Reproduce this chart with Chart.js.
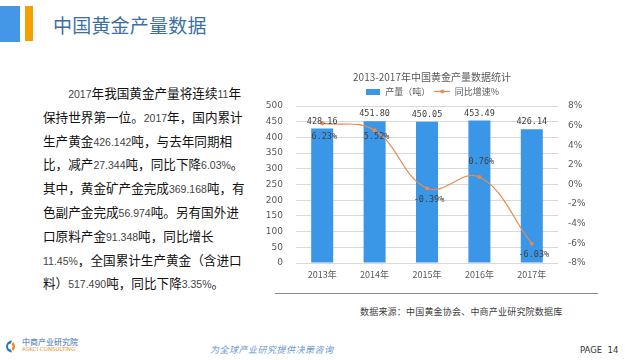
<!DOCTYPE html>
<html><head><meta charset="utf-8">
<script src="https://cdn.jsdelivr.net/npm/chart.js@4/dist/chart.umd.min.js"></script>
<style>
html,body{margin:0;padding:0;background:#fff;}
body{width:625px;height:360px;position:relative;overflow:hidden;font-family:"Noto Sans CJK SC","Noto Sans",sans-serif;}
.abs{position:absolute;}
#blk1{left:0;width:20px;height:36px;background:#4497E6;top:6px;}
#blk2{left:25px;top:6px;width:8px;height:35px;background:#F5A000;}
#ttl{left:53px;top:12px;font-size:19px;line-height:26px;color:#3D6FA3;letter-spacing:0.2px;white-space:nowrap;}
#para{left:43px;top:82px;font-size:12.6px;line-height:22.8px;color:#111;}
#para div{white-space:nowrap;}
#para .n{font-family:"Liberation Sans","Arial",sans-serif;font-size:10.5px;color:#444;}
#wrap{left:262px;top:61px;width:340px;height:226px;}
#sep{left:275px;top:293px;width:323px;height:1px;background:#8a8a8a;}
#src{left:360px;top:305px;font-size:9px;line-height:14px;color:#404040;white-space:nowrap;letter-spacing:0.2px;}
#tag{left:210px;top:343px;font-size:9px;line-height:13px;color:#6C9BD0;font-style:italic;white-space:nowrap;letter-spacing:0.5px;}
#pg{left:580px;top:344px;font-size:8.5px;line-height:12px;color:#333;font-family:"DejaVu Sans",sans-serif;white-space:nowrap;}
#logo{left:3px;top:339px;}
#lg1{left:22px;top:336px;font-size:8px;line-height:11px;color:#3A6DB0;white-space:nowrap;}
#lg2{left:22px;top:346px;font-size:5.5px;line-height:7px;color:#E8922E;white-space:nowrap;font-family:"DejaVu Sans",sans-serif;}
</style></head>
<body>
<div id="blk1" class="abs"></div>
<div id="blk2" class="abs"></div>
<div id="ttl" class="abs">中国黄金产量数据</div>
<div id="para" class="abs">
<div>&#12288;&#12288;<span class="n">2017</span>年我国黄金产量将连续<span class="n">11</span>年</div>
<div>保持世界第一位。<span class="n">2017</span>年，国内累计</div>
<div>生产黄金<span class="n">426.142</span>吨，与去年同期相</div>
<div>比，减产<span class="n">27.344</span>吨，同比下降<span class="n">6.03%</span>。</div>
<div>其中，黄金矿产金完成<span class="n">369.168</span>吨，有</div>
<div>色副产金完成<span class="n">56.974</span>吨。另有国外进</div>
<div>口原料产金<span class="n">91.348</span>吨，同比增长</div>
<div><span class="n">11.45%</span>，全国累计生产黄金（含进口</div>
<div>料）<span class="n">517.490</span>吨，同比下降<span class="n">3.35%</span>。</div>
</div>
<div id="wrap" class="abs"><canvas id="c" width="340" height="226"></canvas></div>
<div id="sep" class="abs"></div>
<div id="src" class="abs">数据来源：中国黄金协会、中商产业研究院数据库</div>
<svg id="logo" class="abs" width="14" height="15" viewBox="0 0 14 15">
<path d="M9 1.5 A6 6 0 1 0 9 13.5 L8 10.5 A3 3 0 1 1 8 4.5 Z" fill="#2F74C0"/>
<path d="M10 3 A6 6 0 0 1 10 12 L8.6 9.6 A3 3 0 0 0 8.6 5.4 Z" fill="#EE8B2A"/>
</svg>
<div id="lg1" class="abs">中商产业研究院</div>
<div id="lg2" class="abs">ASKCI CONSULTING</div>
<div id="tag" class="abs">为全球产业研究提供决策咨询</div>
<div id="pg" class="abs">PAGE&nbsp; 14</div>
<script>
const categories = ['2013年','2014年','2015年','2016年','2017年'];
const output = [428.16, 451.80, 450.05, 453.49, 426.14];
const growth = [6.23, 5.52, -0.39, 0.76, -6.03];
const seriesNames = ['产量（吨）','同比增速%'];
const chartTitle = '2013-2017年中国黄金产量数据统计';

const BAR = '#3A96E6', LINE = '#E8894F';
function icon(w,h,draw){const c=document.createElement('canvas');c.width=w;c.height=h;draw(c.getContext('2d'));return c;}
const barIcon = icon(14,6,g=>{g.fillStyle=BAR;g.fillRect(0,0,14,6);});
const lineIcon = icon(16,7,g=>{g.strokeStyle=LINE;g.lineWidth=1.2;g.beginPath();g.moveTo(0,3.5);g.lineTo(16,3.5);g.stroke();g.fillStyle=LINE;g.beginPath();g.arc(8,3.5,2,0,Math.PI*2);g.fill();});

const labelPlugin = {
  id:'lbls',
  afterDatasetsDraw(chart){
    const ctx = chart.ctx;
    ctx.save();
    ctx.fillStyle = '#404040';
    ctx.font = '8.5px "DejaVu Sans Mono", monospace';
    ctx.textAlign = 'center';
    const mb = chart.getDatasetMeta(0);
    mb.data.forEach((el,i)=>{
      ctx.textBaseline='bottom';
      ctx.fillText(output[i].toFixed(2), el.x, el.y-3);
    });
    const ml = chart.getDatasetMeta(1);
    const off = [13, 6, 11, -15, 11];
    ml.data.forEach((el,i)=>{
      ctx.textBaseline='middle';
      ctx.fillText(growth[i].toFixed(2)+'%', el.x+2, el.y+off[i]);
    });
    ctx.restore();
  }
};

new Chart(document.getElementById('c'), {
  data:{
    labels: categories,
    datasets:[
      {type:'bar', label:seriesNames[0], data:output, backgroundColor:BAR, yAxisID:'y', order:2,
       barPercentage:1, categoryPercentage:0.42},
      {type:'line', label:seriesNames[1], data:growth, borderColor:LINE, backgroundColor:LINE, borderWidth:1.2,
       yAxisID:'y1', order:1, tension:0.4, pointRadius:2, pointBackgroundColor:LINE, pointBorderWidth:0, pointStyle:'circle'}
    ]
  },
  options:{
    responsive:false, animation:false,
    layout:{padding:0},
    plugins:{
      tooltip:{enabled:false},
      title:{display:true, text:chartTitle, color:'#595959', font:{size:10, family:'"Noto Sans CJK SC", sans-serif', weight:'normal'}, padding:{top:10,bottom:0}},
      legend:{display:true, position:'top', labels:{usePointStyle:true, pointStyleWidth:16, boxHeight:7, padding:4, color:'#595959',
        font:{size:9, family:'"Noto Sans CJK SC", sans-serif'},
        sort:(a,b)=>a.datasetIndex-b.datasetIndex,
        generateLabels:(chart)=>chart.data.datasets.map((d,i)=>({text:d.label, datasetIndex:i, pointStyle:i===0?barIcon:lineIcon, fontColor:'#595959', hidden:false, lineWidth:0}))
      }}
    },
    scales:{
      x:{grid:{display:false, drawTicks:false}, border:{display:false},
         ticks:{color:'#595959', font:{size:9, family:'"Noto Sans CJK SC", sans-serif'}, padding:6},
         afterFit(s){s.height=24;}},
      y:{position:'left', min:0, max:500, grid:{color:'#D9D9D9', drawTicks:false}, border:{display:false},
         ticks:{stepSize:50, color:'#595959', font:{size:9, family:'"DejaVu Sans", sans-serif'}, padding:13},
         afterFit(s){s.width=34;}},
      y1:{position:'right', min:-8, max:8, grid:{display:false, drawTicks:false}, border:{display:false},
         ticks:{stepSize:2, color:'#595959', font:{size:9, family:'"DejaVu Sans", sans-serif'}, padding:10, callback:v=>v+'%'},
         afterFit(s){s.width=44;}}
    }
  },
  plugins:[labelPlugin]
});
</script>
</body></html>
